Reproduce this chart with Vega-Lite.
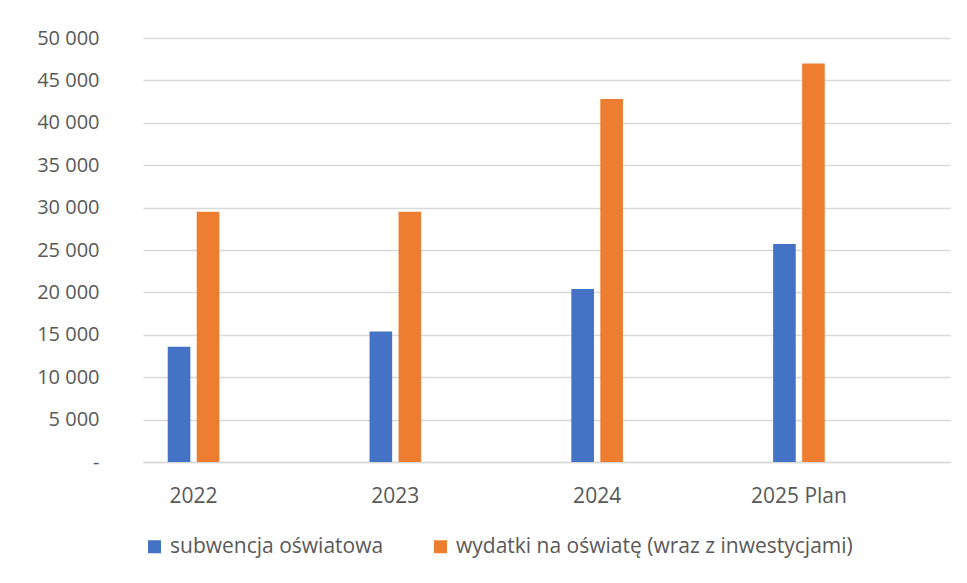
{
  "$schema": "https://vega.github.io/schema/vega-lite/v6.json",
  "width": 807,
  "height": 424,
  "autosize": "none",
  "padding": {"left": 143, "top": 38, "right": 17, "bottom": 121},
  "background": "white",
  "data": {
    "values": [
      {"year": "2022", "series": "subwencja oświatowa", "value": 13600},
      {"year": "2022", "series": "wydatki na oświatę (wraz z inwestycjami)", "value": 29500},
      {"year": "2023", "series": "subwencja oświatowa", "value": 15400},
      {"year": "2023", "series": "wydatki na oświatę (wraz z inwestycjami)", "value": 29500},
      {"year": "2024", "series": "subwencja oświatowa", "value": 20400},
      {"year": "2024", "series": "wydatki na oświatę (wraz z inwestycjami)", "value": 42800},
      {"year": "2025 Plan", "series": "subwencja oświatowa", "value": 25700},
      {"year": "2025 Plan", "series": "wydatki na oświatę (wraz z inwestycjami)", "value": 47000}
    ]
  },
  "mark": {"type": "bar"},
  "encoding": {
    "x": {
      "field": "year",
      "type": "nominal",
      "sort": ["2022", "2023", "2024", "2025 Plan"],
      "scale": {"paddingInner": 0.7126, "paddingOuter": 0.3558, "align": 0.15},
      "axis": {
        "title": null,
        "labelAngle": 0,
        "ticks": false,
        "tickSize": 0,
        "domain": true,
        "domainColor": "#d9d9d9",
        "domainWidth": 1.5,
        "labelFont": "Open Sans",
        "labelFontSize": 21,
        "labelColor": "#595959",
        "labelPadding": 40,
        "labelBaseline": "alphabetic"
      }
    },
    "xOffset": {
      "field": "series",
      "type": "nominal",
      "sort": ["subwencja oświatowa", "wydatki na oświatę (wraz z inwestycjami)"],
      "scale": {"paddingInner": 0.22, "paddingOuter": 0.11}
    },
    "y": {
      "field": "value",
      "type": "quantitative",
      "scale": {"domain": [0, 50000], "nice": false},
      "axis": {
        "title": null,
        "values": [0, 5000, 10000, 15000, 20000, 25000, 30000, 35000, 40000, 45000, 50000],
        "labelExpr": "datum.value == 0 ? '-' : replace(format(datum.value, ','), ',', ' ')",
        "domain": false,
        "ticks": false,
        "tickSize": 0,
        "grid": true,
        "gridColor": "#d9d9d9",
        "gridWidth": 1.5,
        "labelPadding": 44,
        "labelFont": "Open Sans",
        "labelFontSize": 20,
        "labelColor": "#595959"
      }
    },
    "color": {
      "field": "series",
      "type": "nominal",
      "sort": ["subwencja oświatowa", "wydatki na oświatę (wraz z inwestycjami)"],
      "scale": {"range": ["#4472C4", "#ED7D31"]},
      "legend": {
        "title": null,
        "orient": "none",
        "direction": "horizontal",
        "legendX": 1,
        "legendY": 498,
        "symbolType": "square",
        "symbolSize": 169,
        "symbolStrokeWidth": 0,
        "labelFont": "Open Sans",
        "labelFontSize": 21,
        "labelColor": "#595959",
        "labelOffset": 5,
        "labelLimit": 600,
        "columnPadding": 46
      }
    }
  },
  "config": {"view": {"stroke": null}}
}
